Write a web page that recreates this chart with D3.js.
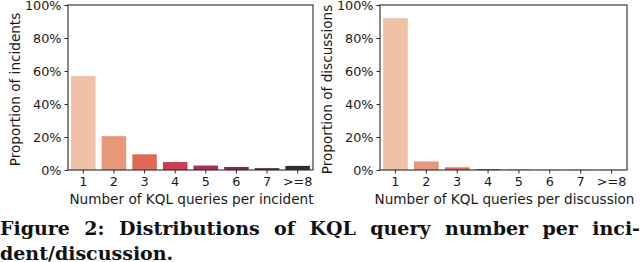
<!DOCTYPE html>
<html>
<head>
<meta charset="utf-8">
<script src="https://cdn.jsdelivr.net/npm/d3@7"></script>
<style>
  body { margin: 0; background: #fff; width: 640px; height: 262px; overflow: hidden; position: relative; }
  #caption { position: absolute; left: 0; top: 216px; width: 640px;
    font-family: "DejaVu Serif", serif; font-weight: bold; font-size: 19px; line-height: 25px; color: #111; }
  #caption .l1 { text-align: justify; text-align-last: justify; white-space: nowrap; }
</style>
</head>
<body>
<div id="chart"></div>
<div id="caption">
  <div class="l1">Figure 2: Distributions of KQL query number per inci-</div>
  <div>dent/discussion.</div>
</div>
<script>
// query-count buckets and proportions for each panel
const categories = ['1', '2', '3', '4', '5', '6', '7', '>=8'];
const incidentShare = [0.57, 0.205, 0.095, 0.048, 0.027, 0.018, 0.011, 0.025];
const discussionShare = [0.92, 0.052, 0.016, 0.006, 0.002, 0.001, 0.001, 0.001];
const yTicks = [0, 0.2, 0.4, 0.6, 0.8, 1.0];
const barColors = ['#efc2a5', '#e8977a', '#e06a51', '#cc3b52', '#a92d5d', '#84265b', '#47213f', '#2f2c30'];

const svg = d3.select('#chart').append('svg')
    .attr('width', 640)
    .attr('height', 212)
    .style('display', 'block');

function drawPanel(x0, x1, values, yLabel, xLabel) {
    const top = 5, bottom = 170;

    const x = d3.scaleBand()
        .domain(categories)
        .range([x0, x1])
        .paddingInner(0.2)
        .paddingOuter(0.1);

    const y = d3.scaleLinear()
        .domain([0, 1])
        .range([bottom, top]);

    const g = svg.append('g');

    // Bars
    g.selectAll('.bar')
        .data(categories)
        .enter()
        .append('rect')
        .attr('x', d => x(d))
        .attr('y', (d, i) => y(values[i]))
        .attr('width', x.bandwidth())
        .attr('height', (d, i) => bottom - y(values[i]))
        .attr('fill', (d, i) => barColors[i]);

    // Frame
    g.append('rect')
        .attr('x', x0)
        .attr('y', top)
        .attr('width', x1 - x0)
        .attr('height', bottom - top)
        .attr('fill', 'none')
        .attr('stroke', '#2a2a2a')
        .attr('stroke-width', 1.1);

    // Axes
    const xAxis = g.append('g')
        .attr('transform', `translate(0,${bottom})`)
        .call(d3.axisBottom(x).tickSize(3.5).tickPadding(3));

    const yAxis = g.append('g')
        .attr('transform', `translate(${x0},0)`)
        .call(d3.axisLeft(y).tickValues(yTicks).tickFormat(d3.format('.0%')).tickSize(3.5).tickPadding(3));

    [xAxis, yAxis].forEach(a => {
        a.select('.domain').remove();
        a.selectAll('line').attr('stroke', '#2a2a2a');
        a.selectAll('text')
            .attr('fill', '#1a1a1a')
            .style('font-family', 'DejaVu Sans')
            .style('font-size', '12.8px');
    });

    // Axis labels
    g.append('text')
        .attr('transform', 'rotate(-90)')
        .attr('x', -(top + bottom) / 2 - 2)
        .attr('y', x0 - 48)
        .attr('text-anchor', 'middle')
        .attr('fill', '#1a1a1a')
        .style('font-family', 'DejaVu Sans')
        .style('font-size', '13.6px')
        .text(yLabel);

    g.append('text')
        .attr('x', (x0 + x1) / 2 + 1)
        .attr('y', 204)
        .attr('text-anchor', 'middle')
        .attr('fill', '#1a1a1a')
        .style('font-family', 'DejaVu Sans')
        .style('font-size', '13.6px')
        .text(xLabel);
}

drawPanel(68, 313, incidentShare, 'Proportion of incidents', 'Number of KQL queries per incident');
drawPanel(380, 627, discussionShare, 'Proportion of discussions', 'Number of KQL queries per discussion');
</script>
</body>
</html>
